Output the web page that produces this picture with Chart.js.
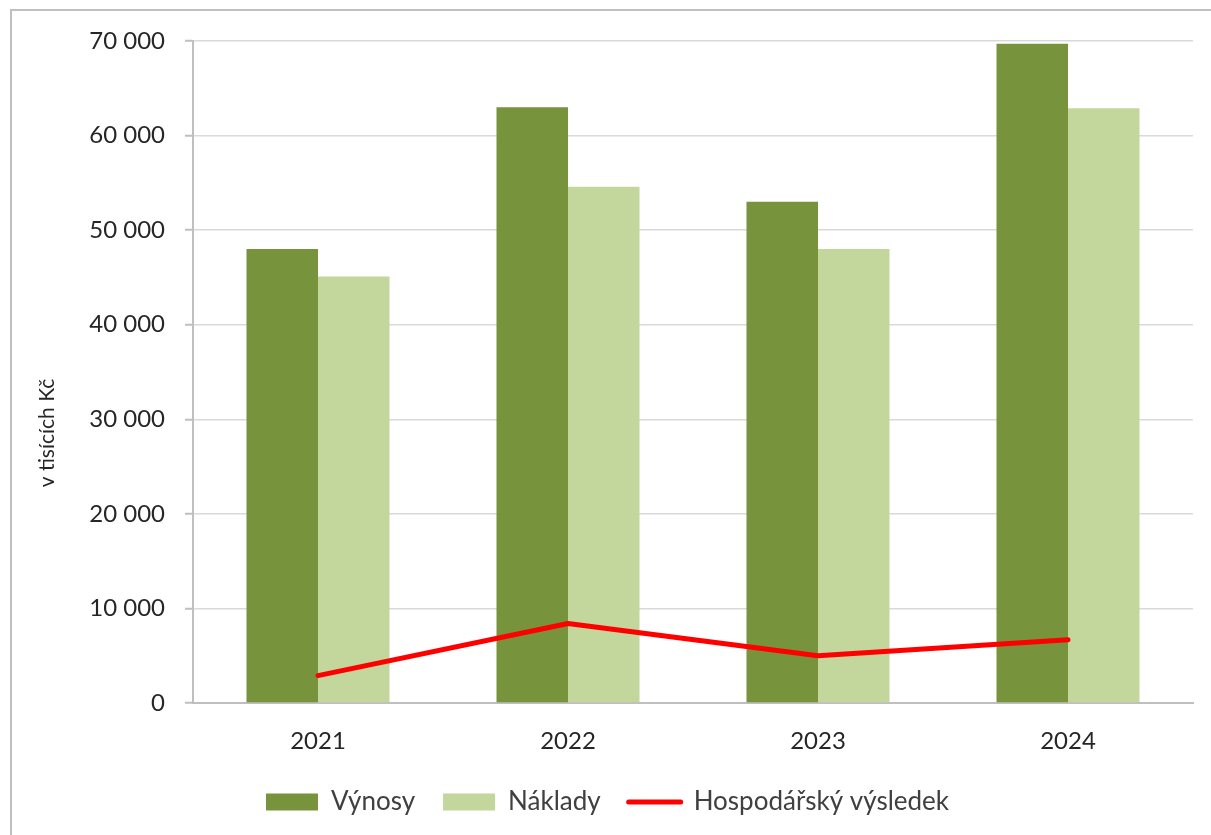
<!DOCTYPE html>
<html>
<head>
<meta charset="utf-8">
<script src="https://cdn.jsdelivr.net/npm/chart.js@4"></script>
<style>
  body { margin: 0; background: #fff; }
  canvas { display: block; }
</style>
</head>
<body>
<canvas id="myChart" width="1211" height="835"></canvas>
<script>
const years = ['2021', '2022', '2023', '2024'];
const vynosy = [48000, 63000, 53000, 69700];
const naklady = [45100, 54600, 48000, 62900];
const vysledek = [2900, 8400, 5000, 6700];
const yMin = 0;
const yMax = 70000;
const yStep = 10000;
const yTitle = 'v tisících Kč';

const FONT = 'Lato, "Open Sans", sans-serif';

// frame round the chart (only left and top edges are visible)
const framePlugin = {
  id: 'frame',
  beforeDraw(chart) {
    const ctx = chart.ctx;
    ctx.save();
    ctx.fillStyle = '#fff';
    ctx.fillRect(0, 0, chart.width, chart.height);
    ctx.strokeStyle = '#BFBFBF';
    ctx.lineWidth = 2;
    ctx.beginPath();
    ctx.moveTo(11, chart.height);
    ctx.lineTo(11, 10);
    ctx.lineTo(chart.width, 10);
    ctx.stroke();
    ctx.restore();
  },
  // axis title sits a bit below the middle of the plot, like in the original
  afterDraw(chart) {
    const ctx = chart.ctx;
    ctx.save();
    ctx.translate(47, 433);
    ctx.rotate(-Math.PI / 2);
    ctx.fillStyle = '#262626';
    ctx.font = '21px ' + FONT;
    ctx.textAlign = 'center';
    ctx.textBaseline = 'middle';
    ctx.fillText(yTitle, 0, 0);
    ctx.restore();
  },
};

const formatNum = (v) => String(v).replace(/\B(?=(\d{3})+(?!\d))/g, ' ');

const ctx = document.getElementById('myChart').getContext('2d');
const chart = new Chart(ctx, {
  type: 'bar',
  data: {
    labels: years,
    datasets: [
      {
        label: 'Výnosy',
        data: vynosy,
        backgroundColor: '#77933C',
        borderWidth: 0,
        categoryPercentage: 0.572,
        barPercentage: 1,
        order: 1,
      },
      {
        label: 'Náklady',
        data: naklady,
        backgroundColor: '#C3D69B',
        borderWidth: 0,
        categoryPercentage: 0.572,
        barPercentage: 1,
        order: 1,
      },
      {
        type: 'line',
        label: 'Hospodářský výsledek',
        data: vysledek,
        borderColor: '#FF0000',
        backgroundColor: '#FF0000',
        borderWidth: 5,
        borderCapStyle: 'round',
        borderJoinStyle: 'round',
        pointRadius: 0,
        tension: 0,
        order: 0,
      },
    ],
  },
  options: {
    responsive: false,
    animation: false,
    events: [],
    layout: { padding: { top: 41, left: 22, right: 18, bottom: 10 } },
    plugins: {
      tooltip: { enabled: false },
      legend: {
        position: 'bottom',
        labels: {
          usePointStyle: true,
          pointStyleWidth: 52,
          boxHeight: 17,
          padding: 28,
          color: '#404040',
          font: { family: FONT, size: 26 },
          sort: (a, b) => a.datasetIndex - b.datasetIndex,
          generateLabels(c) {
            const items = Chart.defaults.plugins.legend.labels.generateLabels(c);
            items.forEach((it) => {
              if (it.datasetIndex === 2) {
                it.pointStyle = 'line';
                it.strokeStyle = '#FF0000';
                it.lineWidth = 5;
                it.lineCap = 'round';
              } else {
                it.pointStyle = 'rect';
                it.lineWidth = 0;
              }
            });
            return items;
          },
        },
      },
    },
    scales: {
      x: {
        grid: { display: false, drawTicks: false },
        border: { display: true, color: '#BFBFBF', width: 2 },
        ticks: { color: '#262626', padding: 24, font: { family: FONT, size: 24 } },
        afterFit: (s) => { s.height = 58; },
      },
      y: {
        min: yMin,
        max: yMax,
        ticks: {
          stepSize: yStep,
          color: '#262626',
          padding: 20,
          font: { family: FONT, size: 24 },
          callback: (v) => formatNum(v),
        },
        grid: { color: '#D9D9D9', lineWidth: 1.5, tickLength: 8, tickColor: '#BFBFBF', tickWidth: 2 },
        border: { display: true, color: '#BFBFBF', width: 2 },
        afterFit: (s) => { s.width = 193 - 22; },
      },
    },
  },
  plugins: [framePlugin],
});
</script>
</body>
</html>
